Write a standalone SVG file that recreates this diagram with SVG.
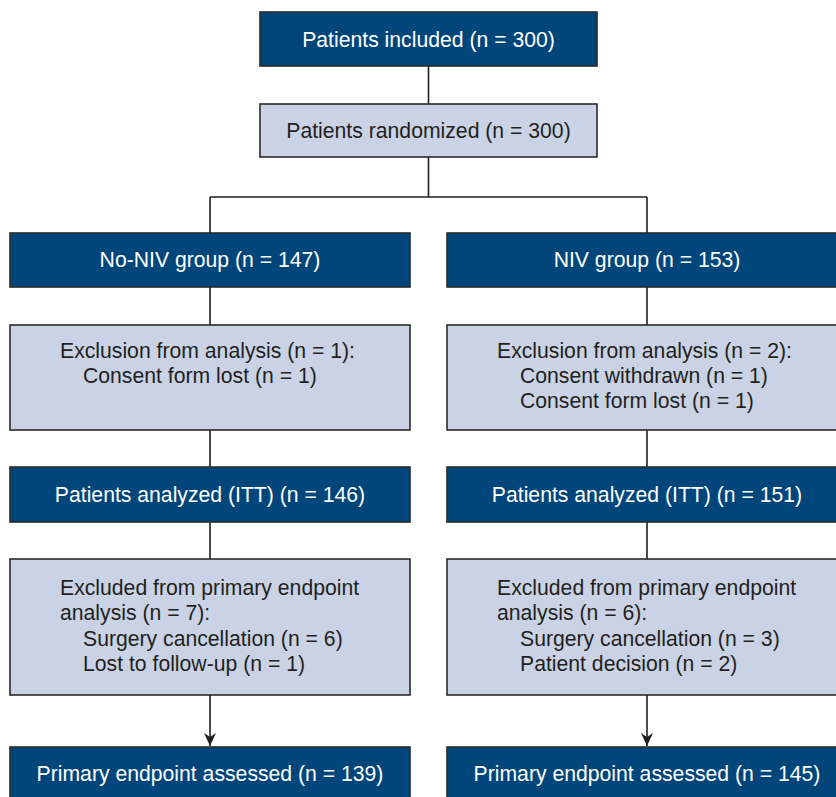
<svg xmlns="http://www.w3.org/2000/svg" width="836" height="797" viewBox="0 0 836 797">
<style>
.dark{fill:#00467b;stroke:#2b2b2b;stroke-width:1.6}
.light{fill:#c9d3e5;stroke:#2b2b2b;stroke-width:1.6}
text{font-family:"Liberation Sans",Arial,sans-serif;font-size:21.2px}
.tw{fill:#ffffff;text-anchor:middle}
.tc{fill:#231f20;text-anchor:middle}
.tl{fill:#231f20}
.conn{fill:none;stroke:#231f20;stroke-width:1.6}
</style>
<defs>
<marker id="arr" markerUnits="userSpaceOnUse" markerWidth="14" markerHeight="13" refX="13" refY="6" orient="auto" viewBox="0 0 14 12">
<path d="M13,6 L0,0 L4,6 L0,12 Z" fill="#231f20"/>
</marker>
</defs>
<rect width="836" height="797" fill="#ffffff"/>
<g id="connectors">
<path class="conn" d="M428.5,66 V104"/>
<path class="conn" d="M428.5,157 V197 M210,197 H647 M210,197 V233 M647,197 V233"/>
<path class="conn" d="M210,287 V325 M647,287 V325"/>
<path class="conn" d="M210,430 V467 M647,430 V467"/>
<path class="conn" d="M210,522 V559 M647,522 V559"/>
<path class="conn" d="M210,695 V746" marker-end="url(#arr)"/>
<path class="conn" d="M647,695 V746" marker-end="url(#arr)"/>
</g>
<g id="included">
<rect class="dark" x="260" y="12" width="337" height="54"/>
<text class="tw" x="428.5" y="46.5">Patients included (n = 300)</text>
</g>
<g id="randomized">
<rect class="light" x="260" y="104" width="337" height="53"/>
<text class="tc" x="428.5" y="138">Patients randomized (n = 300)</text>
</g>
<g id="noniv">
<rect class="dark" x="10" y="233" width="400" height="54"/>
<text class="tw" x="210" y="267">No-NIV group (n = 147)</text>
</g>
<g id="niv">
<rect class="dark" x="447" y="233" width="400" height="54"/>
<text class="tw" x="647" y="267">NIV group (n = 153)</text>
</g>
<g id="excl-left">
<rect class="light" x="10" y="325" width="400" height="105"/>
<text class="tl" x="60" y="358">Exclusion from analysis (n = 1):</text>
<text class="tl" x="83" y="383">Consent form lost (n = 1)</text>
</g>
<g id="excl-right">
<rect class="light" x="447" y="325" width="400" height="105"/>
<text class="tl" x="497" y="358">Exclusion from analysis (n = 2):</text>
<text class="tl" x="520" y="383">Consent withdrawn (n = 1)</text>
<text class="tl" x="520" y="408">Consent form lost (n = 1)</text>
</g>
<g id="itt-left">
<rect class="dark" x="10" y="467" width="400" height="55"/>
<text class="tw" x="210" y="502">Patients analyzed (ITT) (n = 146)</text>
</g>
<g id="itt-right">
<rect class="dark" x="447" y="467" width="400" height="55"/>
<text class="tw" x="647" y="502">Patients analyzed (ITT) (n = 151)</text>
</g>
<g id="pe-excl-left">
<rect class="light" x="10" y="559" width="400" height="136"/>
<text class="tl" x="60" y="595">Excluded from primary endpoint</text>
<text class="tl" x="60" y="620">analysis (n = 7):</text>
<text class="tl" x="83" y="646">Surgery cancellation (n = 6)</text>
<text class="tl" x="83" y="671">Lost to follow-up (n = 1)</text>
</g>
<g id="pe-excl-right">
<rect class="light" x="447" y="559" width="400" height="136"/>
<text class="tl" x="497" y="595">Excluded from primary endpoint</text>
<text class="tl" x="497" y="620">analysis (n = 6):</text>
<text class="tl" x="520" y="646">Surgery cancellation (n = 3)</text>
<text class="tl" x="520" y="671">Patient decision (n = 2)</text>
</g>
<g id="pe-left">
<rect class="dark" x="10" y="747" width="400" height="60"/>
<text class="tw" x="210" y="780.5">Primary endpoint assessed (n = 139)</text>
</g>
<g id="pe-right">
<rect class="dark" x="447" y="747" width="400" height="60"/>
<text class="tw" x="647" y="780.5">Primary endpoint assessed (n = 145)</text>
</g>
</svg>
